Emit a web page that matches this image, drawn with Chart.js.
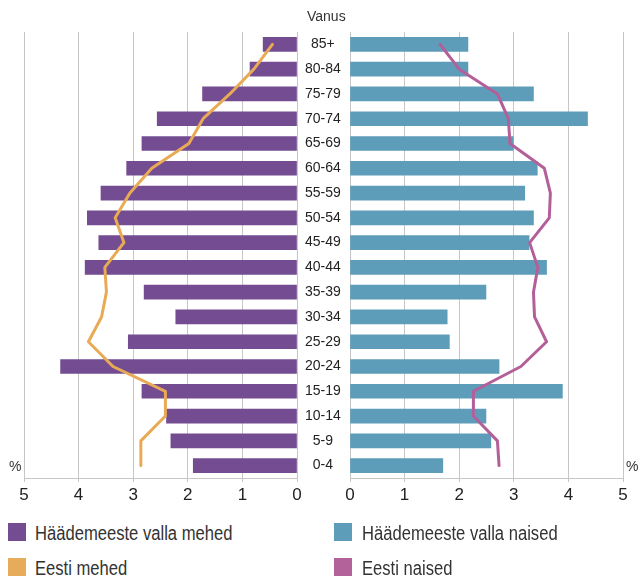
<!DOCTYPE html>
<html>
<head>
<meta charset="utf-8">
<script src="https://cdn.jsdelivr.net/npm/chart.js@4/dist/chart.umd.min.js"></script>
<style>
  html, body { margin: 0; padding: 0; background: #fff; }
  body { width: 638px; height: 576px; position: relative; overflow: hidden;
         font-family: "Liberation Sans", Arial, sans-serif; color: #333; }
  .box { position: absolute; }
  .lbl { position: absolute; font-size: 14px; color: #333; white-space: nowrap; }
  .leg { position: absolute; font-family: "Liberation Sans", Arial, sans-serif;
         font-size: 20px; color: #333; white-space: nowrap; line-height: 18px;
         transform: scaleX(0.83); transform-origin: 0 50%; }
  .sw { position: absolute; width: 18px; height: 18px; }
</style>
</head>
<body>
<div class="box" style="left:0;top:0;width:350px;height:510px;"><canvas id="left"></canvas></div>
<div class="box" style="left:300px;top:0;width:338px;height:510px;"><canvas id="right"></canvas></div>
<div class="lbl" style="left:307px;top:8px;">Vanus</div>
<div class="lbl" style="left:9px;top:458px;">%</div>
<div class="lbl" style="left:626px;top:458px;">%</div>

<div class="sw" style="left:8px;top:523px;background:#734c91;"></div>
<div class="leg" style="left:35px;top:524px;">Häädemeeste valla mehed</div>
<div class="sw" style="left:334px;top:523px;background:#5e9dba;"></div>
<div class="leg" style="left:362px;top:524px;">Häädemeeste valla naised</div>
<div class="sw" style="left:8px;top:558px;background:#e6ac5a;"></div>
<div class="leg" style="left:35px;top:559px;">Eesti mehed</div>
<div class="sw" style="left:334px;top:558px;background:#b3629a;"></div>
<div class="leg" style="left:362px;top:559px;">Eesti naised</div>

<script>
const ages = ['85+','80-84','75-79','70-74','65-69','60-64','55-59','50-54','45-49','40-44','35-39','30-34','25-29','20-24','15-19','10-14','5-9','0-4'];
const valdMehed  = [0.62,0.86,1.73,2.56,2.84,3.12,3.59,3.84,3.63,3.88,2.80,2.22,3.09,4.33,2.84,2.39,2.31,1.90];
const eestiMehed = [0.45,0.79,1.23,1.72,1.98,2.66,3.06,3.33,3.17,3.52,3.49,3.58,3.82,3.37,2.41,2.41,2.86,2.86];
const valdNaised = [2.16,2.16,3.36,4.35,2.99,3.43,3.20,3.36,3.28,3.60,2.49,1.78,1.82,2.73,3.89,2.49,2.58,1.70];
const eestiNaised= [1.65,2.00,2.70,2.90,2.93,3.56,3.67,3.65,3.29,3.44,3.36,3.38,3.60,3.13,2.26,2.26,2.70,2.73];
const xTicks = [0,1,2,3,4,5];

const FONT = '"Liberation Sans", Arial, sans-serif';
Chart.defaults.font.family = FONT;
Chart.defaults.color = '#222';

function xScale(reverse) {
  return {
    type: 'linear', min: 0, max: 5, reverse: reverse,
    afterBuildTicks: s => { s.ticks = xTicks.map(v => ({value: v})); },
    ticks: { font: { size: 17 }, color: '#222', padding: 3, maxRotation: 0 },
    grid: { color: '#c6c6c6', lineWidth: 1, tickLength: 4 },
    border: { color: '#c6c6c6' },
    afterFit: s => { s.height = 32; }
  };
}

function makeChart(id, bars, line, barColor, lineColor, left, padL, padR) {
  return new Chart(document.getElementById(id), {
    type: 'bar',
    data: {
      labels: ages,
      datasets: [
        { type: 'line', data: line, borderColor: lineColor, borderWidth: 3, pointRadius: 0,
          tension: 0, fill: false, order: 0, borderJoinStyle: 'round', borderCapStyle: 'round' },
        { type: 'bar', data: bars, backgroundColor: barColor, borderWidth: 0,
          barThickness: 14, order: 1 }
      ]
    },
    options: {
      indexAxis: 'y',
      responsive: true, maintainAspectRatio: false, animation: false,
      layout: { padding: { left: padL, right: padR, top: 32, bottom: 0 } },
      plugins: { legend: { display: false }, tooltip: { enabled: false } },
      scales: {
        x: xScale(left),
        y: left ? {
          type: 'category', position: 'right', offset: true,
          grid: { display: false, drawTicks: false },
          border: { display: false },
          ticks: { crossAlign: 'center', padding: 8, font: { size: 14 }, color: '#222', autoSkip: false },
          afterFit: s => { s.width = 53; }
        } : {
          type: 'category', position: 'left', offset: true, display: false
        }
      }
    }
  });
}

makeChart('left', valdMehed, eestiMehed, '#734c91', '#e8aa55', true, 24, 0);
makeChart('right', valdNaised, eestiNaised, '#5e9dba', '#b3609a', false, 50, 15);
</script>
</body>
</html>
